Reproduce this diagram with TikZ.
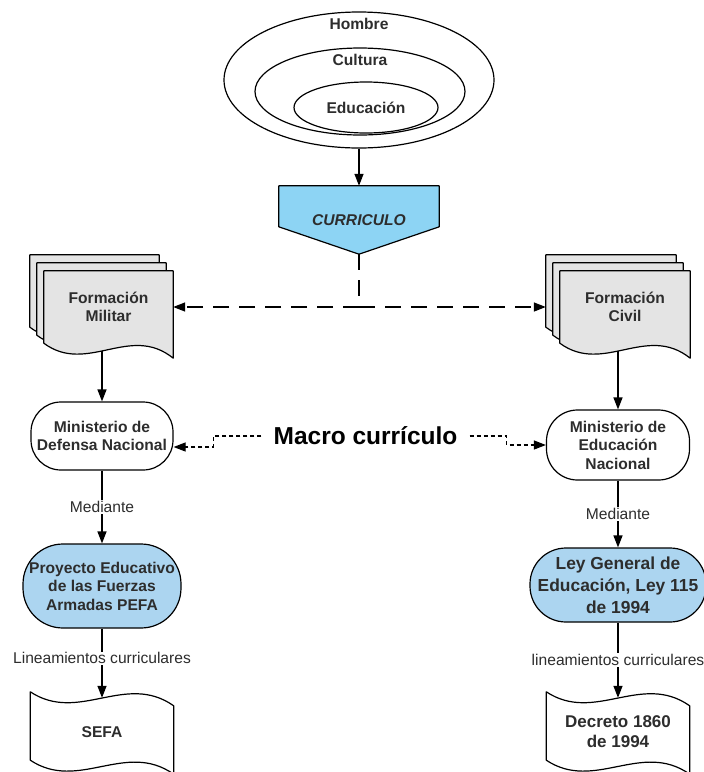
\documentclass[tikz,border=0pt]{standalone}
\usepackage{fontspec}
\setmainfont{Liberation Sans}
\usepackage{tikz}
\usetikzlibrary{shapes,arrows.meta,calc,backgrounds,positioning}
\definecolor{celeste}{RGB}{141,212,244}
\definecolor{azul}{RGB}{172,213,240}
\definecolor{gris}{RGB}{228,228,228}
\definecolor{oscuro}{RGB}{45,45,45}
\def\Med{Mediante}
% one sheet of a document stack: #1 node, #2 shift
\newcommand{\Hoja}[2]{\draw[fill=gris,line width=1.2pt,line join=round]
  ($(#1.north west)+(#2)$) -- ($(#1.north east)+(#2)$) -- ($(#1.south east)+(#2)+(0,15)$)
  .. controls ($(#1.south)+(#2)+(21.5,-20)$) and ($(#1.south)+(#2)+(-21.5,32)$) .. ($(#1.south west)+(#2)$) -- cycle;}
% wavy tape around a node
\newcommand{\Cinta}[1]{\draw[fill=white,line width=1.2pt,line join=round]
  ($(#1.north west)+(0,-6)$) .. controls ($(#1.north)+(-23.5,26)$) and ($(#1.north)+(23.5,-26)$) .. ($(#1.north east)+(0,8)$)
  -- ($(#1.south east)+(0,8)$) .. controls ($(#1.south)+(23.5,-26)$) and ($(#1.south)+(-23.5,26)$) .. ($(#1.south west)+(0,-6)$) -- cycle;}

\begin{document}
\begin{tikzpicture}[x=1pt,y=-1pt,% pixel grid, y going down
        every node/.style={
            align=center,   % so that "\\" breaks the line
            text=oscuro,
            font=\fontsize{15.6}{18.5}\selectfont\bfseries
        },
        caja/.style={rectangle,rounded corners=#1,draw,line width=1.2pt},
        caja/.default=30pt,
        etiq/.style={fill=white,inner sep=1pt,font=\fontsize{15.6}{18}\selectfont},
        every edge/.style={draw,line width=1.4pt},
        >={Triangle[length=12pt,width=9pt]},
        rayas/.style={line width=1.5pt,dash pattern=on 16pt off 10pt},
        puntos/.style={line width=1.2pt,dash pattern=on 4pt off 3pt}
    ]
    \useasboundingbox (0,0) rectangle (704,772);

    % nested ellipses
    \node[ellipse,draw,line width=1.2pt,minimum width=270pt,minimum height=136pt](E1) at (359,80) {};
    \node[ellipse,draw,line width=1.2pt,minimum width=210pt,minimum height=87pt](E2) at (360,91.5) {};
    \node[ellipse,draw,line width=1.2pt,minimum width=144pt,minimum height=51pt](E3) at (366,107.5) {Educación};
    \node(T1) at (359,24) {Hombre};
    \node(T2) at (360,60) {Cultura};

    \node[minimum width=160pt,minimum height=68pt,font=\fontsize{15.6}{18.5}\selectfont\bfseries\itshape](C1) at (359,220) {CURRICULO};

    \node[minimum width=129pt,minimum height=72pt](F1) at (108.5,307) {Formación\\Militar};
    \node[minimum width=130pt,minimum height=72pt](F2) at (625,307) {Formación\\Civil};

    \node[caja=30pt,minimum width=142pt,minimum height=68pt](M1) at (102,436) {Ministerio de\\Defensa Nacional};
    \node[caja=31pt,minimum width=143pt,minimum height=70pt](M2) at (618,445) {Ministerio de\\Educación\\Nacional};
    \node[font=\fontsize{24.5}{28}\selectfont\bfseries,text=black,inner xsep=12pt](M0) at (365.5,436) {Macro currículo};

    \node[caja=40pt,fill=azul,minimum width=158pt,minimum height=84pt](P1) at (102,586) {Proyecto Educativo\\de las Fuerzas\\Armadas PEFA};
    \node[caja=36pt,fill=azul,minimum width=176pt,minimum height=74pt,font=\fontsize{17.4}{22}\selectfont\bfseries](P2) at (618,585) {Ley General de\\Educación, Ley 115\\de 1994};

    \node[minimum width=143pt,minimum height=68pt](D1) at (102,732) {SEFA};
    \node[minimum width=143pt,minimum height=68pt,font=\fontsize{17}{20}\selectfont\bfseries](D2) at (618,732) {Decreto 1860\\de 1994};

    \begin{scope}[on background layer]
        \draw[fill=celeste,line width=1.2pt,line join=round] (C1.north west) -- (C1.north east) -- ($(C1.north east)+(0,41)$)
            -- (C1.south) -- ($(C1.north west)+(0,41)$) -- cycle;
        \Hoja{F1}{-14,-16} \Hoja{F1}{-7,-8} \Hoja{F1}{0,0}
        \Hoja{F2}{-14,-16} \Hoja{F2}{-7,-8} \Hoja{F2}{0,0}
        \Cinta{D1} \Cinta{D2}
    \end{scope}

    % connectors
    \path[->] (E1) edge (C1);
    \coordinate (J) at (C1.south |- F1.east);
    \draw[rayas] (C1.south) -- (J);
    \draw[rayas,->] (J) -- (F1.east);
    \draw[rayas,->] (J) -- ([xshift=-14pt]F2.west);
    \draw[->,line width=1.4pt] ($(M1.north |- F1.south)+(0,8)$) -- (M1.north);
    \draw[->,line width=1.4pt] ($(M2.north |- F2.south)+(0,8)$) -- (M2.north);
    \draw[puntos,->] (M0.west) -- ++(-48,0) |- ($(M1.east)+(0,11)$);
    \draw[puntos,->] (M0.east) -- ++(37,0) |- (M2.west);
    \path[->]
        (M1) edge node[etiq] {\Med} (P1)
        (M2) edge node[etiq] {\Med} (P2)
        (P1) edge node[etiq,pos=0.43] {Lineamientos curriculares} (D1)
        (P2) edge node[etiq] {lineamientos curriculares} (D2)
        ;
\end{tikzpicture}
\end{document}
